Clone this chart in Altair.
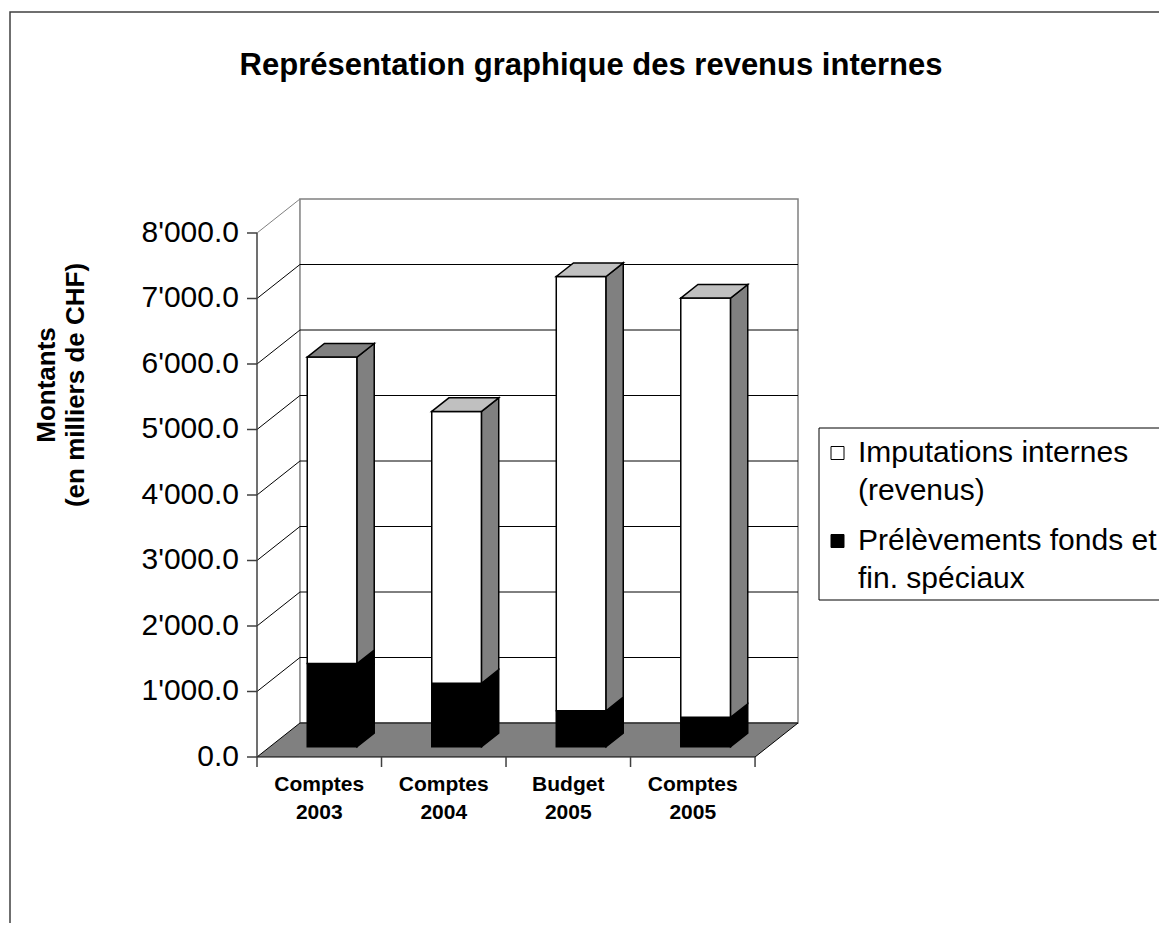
import altair as alt
import pandas as pd

# ---------------- data ----------------
categories = ["Comptes\n2003", "Comptes\n2004", "Budget\n2005", "Comptes\n2005"]
prelevements = [1270, 970, 550, 450]      # Prélèvements fonds et fin. spéciaux (black)
imputations = [4680, 4150, 6630, 6400]    # Imputations internes (revenus) (white)
series_names = ["Imputations internes\n(revenus)", "Prélèvements fonds et\nfin. spéciaux"]
y_ticks = [0, 1000, 2000, 3000, 4000, 5000, 6000, 7000, 8000]
chart_title = "Représentation graphique des revenus internes"
y_title = ["Montants", "(en milliers de CHF)"]

# ---------------- geometry / style ----------------
W, H = 541, 558
DX, DY = 0.345, 519          # depth of the 3-D box in data units
BAR_W = 0.4
FRONT, BACK = 0.3, 0.7       # bar depth position (fraction of the box depth)
YMAX = max(y_ticks)
NCAT = len(categories)
FONT = "Liberation Sans"
GRAY = "#808080"
LIGHT = "#c0c0c0"
top_face_colors = [GRAY, LIGHT, LIGHT, LIGHT]
series_colors = ["white", "black"]

x_scale = alt.Scale(domain=[0, NCAT + DX], nice=False, zero=False)
y_scale = alt.Scale(domain=[0, YMAX + DY], nice=False, zero=False)

one = pd.DataFrame({"k": [0]})

# frame
frame = alt.Chart(one).mark_rect(filled=False, stroke="#404040", strokeWidth=1.5).encode(
    x=alt.value(-247), x2=alt.value(W + 500), y=alt.value(-187), y2=alt.value(H + 500))

# back wall
wall_df = pd.DataFrame({"x0": [DX], "x1": [NCAT + DX], "y0": [DY], "y1": [YMAX + DY]})
wall = alt.Chart(wall_df).mark_rect(fill="white", stroke=GRAY, strokeWidth=1.5).encode(
    x=alt.X("x0:Q", scale=x_scale, axis=None), x2="x1:Q",
    y=alt.Y("y0:Q", scale=y_scale, axis=None), y2="y1:Q")

# gridlines on back wall
grid_df = pd.DataFrame({"v": [v + DY for v in y_ticks[1:-1]], "x0": DX, "x1": NCAT + DX})
grid = alt.Chart(grid_df).mark_rule(color="black", strokeWidth=1).encode(
    x=alt.X("x0:Q", scale=x_scale, axis=None), x2="x1:Q",
    y=alt.Y("v:Q", scale=y_scale, axis=None))

# left wall diagonals
diag_df = pd.DataFrame({
    "xa": [0.0] * (len(y_ticks) - 1), "xb": [DX] * (len(y_ticks) - 1),
    "ya": y_ticks[1:], "yb": [v + DY for v in y_ticks[1:]],
    "c": ["black"] * (len(y_ticks) - 2) + [GRAY],
})
diag = alt.Chart(diag_df).mark_rule(strokeWidth=1).encode(
    x=alt.X("xa:Q", scale=x_scale, axis=None), x2="xb:Q",
    y=alt.Y("ya:Q", scale=y_scale, axis=None), y2="yb:Q",
    color=alt.Color("c:N", scale=None))

# floor
floor_df = pd.DataFrame({"x": [0, DX, NCAT, NCAT + DX], "y": [0, DY, DY, DY], "y2": [0, 0, 0, DY]})
floor = alt.Chart(floor_df).mark_area(fill=GRAY, stroke="black", strokeWidth=1).encode(
    x=alt.X("x:Q", scale=x_scale, axis=None),
    y=alt.Y("y:Q", scale=y_scale, axis=None, stack=None), y2="y2:Q")

# front axis line
axis_line = alt.Chart(pd.DataFrame({"x": [0], "y0": [0], "y1": [YMAX]})).mark_rule(
    color="#404040", strokeWidth=1.5).encode(
    x=alt.X("x:Q", scale=x_scale, axis=None),
    y=alt.Y("y0:Q", scale=y_scale, axis=None), y2="y1:Q")

# y ticks and labels
yt_df = pd.DataFrame({"v": y_ticks})
y_tick_marks = alt.Chart(yt_df).mark_rule(color="#404040", strokeWidth=1.5).encode(
    x=alt.value(-10), x2=alt.value(0), y=alt.Y("v:Q", scale=y_scale, axis=None))
y_labels = alt.Chart(yt_df).transform_calculate(
    lab="replace(format(datum.v, ',.1f'), ',', \"'\")"
).mark_text(font=FONT, fontSize=30, align="right", baseline="middle", color="black").encode(
    x=alt.value(-18), y=alt.Y("v:Q", scale=y_scale, axis=None), text="lab:N")

# bar faces (3-D stacked columns)
fx, fy = FRONT * DX, FRONT * DY
bx, by = BACK * DX, BACK * DY
rows = []
for i in range(NCAT):
    x0 = i + 0.5 - BAR_W / 2
    x1 = i + 0.5 + BAR_W / 2
    p = prelevements[i]
    t = prelevements[i] + imputations[i]
    segs = [(0, p, "black", "black", None), (p, t, "white", GRAY, top_face_colors[i])]
    for s, (lo, hi, fc, sc, tc) in enumerate(segs):
        pid = f"b{i}s{s}"
        rows += [
            dict(pid=pid + "f", x=x0 + fx, y=hi + fy, y2=lo + fy, c=fc),
            dict(pid=pid + "f", x=x1 + fx, y=hi + fy, y2=lo + fy, c=fc),
            dict(pid=pid + "s", x=x1 + fx, y=hi + fy, y2=lo + fy, c=sc),
            dict(pid=pid + "s", x=x1 + bx, y=hi + by, y2=lo + by, c=sc),
        ]
        if tc:
            rows += [
                dict(pid=pid + "t", x=x0 + fx, y=hi + fy, y2=hi + fy, c=tc),
                dict(pid=pid + "t", x=x0 + bx, y=hi + by, y2=hi + fy, c=tc),
                dict(pid=pid + "t", x=x1 + fx, y=hi + by, y2=hi + fy, c=tc),
                dict(pid=pid + "t", x=x1 + bx, y=hi + by, y2=hi + by, c=tc),
            ]
faces_df = pd.DataFrame(rows)
faces = alt.Chart(faces_df).mark_area(stroke="black", strokeWidth=1.5, strokeJoin="miter").encode(
    x=alt.X("x:Q", scale=x_scale, axis=None),
    y=alt.Y("y:Q", scale=y_scale, axis=None, stack=None), y2="y2:Q",
    color=alt.Color("c:N", scale=None), detail="pid:N")

# x ticks
xt = alt.Chart(pd.DataFrame({"x": list(range(NCAT + 1))})).mark_rule(
    color="#404040", strokeWidth=1.5).encode(
    x=alt.X("x:Q", scale=x_scale, axis=None), y=alt.value(H), y2=alt.value(H + 10))

# x labels (first line centred at y)
cat_df = pd.DataFrame({"cat": categories, "pos": [i + 0.5 for i in range(NCAT)]})
xlab = alt.Chart(cat_df).mark_text(
    font=FONT, fontSize=21, fontWeight="bold", lineBreak="\n", lineHeight=28,
    align="center", baseline="middle", color="black").encode(
    x=alt.X("pos:Q", scale=x_scale, axis=None), y=alt.value(H + 28), text="cat:N")

# title
title = alt.Chart(pd.DataFrame({"t": [chart_title]})).mark_text(
    font=FONT, fontSize=31, fontWeight="bold", align="center", baseline="middle", color="black").encode(
    x=alt.value(334), y=alt.value(-133), text="t:N")

# y title
yt1 = alt.Chart(pd.DataFrame({"t": [y_title[0]]})).mark_text(
    font=FONT, fontSize=26, fontWeight="bold", angle=270, align="center", baseline="middle").encode(
    x=alt.value(-210), y=alt.value(186), text="t:N")
yt2 = alt.Chart(pd.DataFrame({"t": [y_title[1]]})).mark_text(
    font=FONT, fontSize=26, fontWeight="bold", angle=270, align="center", baseline="middle").encode(
    x=alt.value(-181), y=alt.value(186), text="t:N")

# legend
leg_box = alt.Chart(one).mark_rect(fill="white", stroke="black", strokeWidth=1).encode(
    x=alt.value(562), x2=alt.value(W + 500), y=alt.value(229), y2=alt.value(401))
legend_layers = [leg_box]
for j, (name, col) in enumerate(zip(series_names, series_colors)):
    yc = 254 + j * 88
    legend_layers.append(
        alt.Chart(pd.DataFrame({"c": [col]})).mark_rect(stroke="black", strokeWidth=1).encode(
            x=alt.value(574), x2=alt.value(587), y=alt.value(yc - 6.5), y2=alt.value(yc + 6.5),
            color=alt.Color("c:N", scale=None)))
    legend_layers.append(
        alt.Chart(pd.DataFrame({"t": [name]})).mark_text(
            font=FONT, fontSize=30, lineBreak="\n", lineHeight=38, align="left",
            baseline="middle", color="black").encode(
            x=alt.value(601), y=alt.value(yc), text="t:N"))

chart = alt.layer(
    frame, wall, grid, diag, floor, faces, axis_line, y_tick_marks, y_labels,
    xt, xlab, title, yt1, yt2, *legend_layers
).properties(
    width=W, height=H,
    autosize=alt.AutoSizeParams(type="none"),
    padding={"left": 249, "top": 191, "right": 361, "bottom": 166},
).configure_view(stroke=None)

chart.save("out.html", embed_options={"renderer": "svg", "actions": False})
